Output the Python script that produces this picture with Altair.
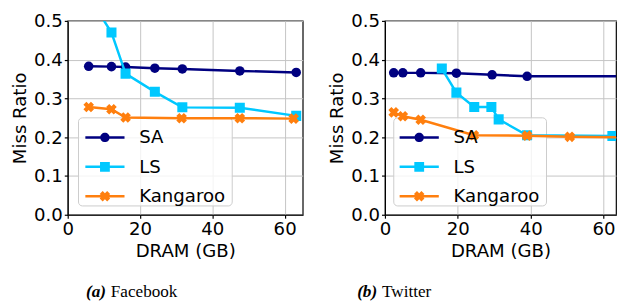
import altair as alt
import pandas as pd

# ---------------- data ----------------
series = ["SA", "LS", "Kangaroo"]
colors = ["#000080", "#00c8ff", "#ff7f0e"]

fb_sa_x = [5.8, 12.1, 16.0, 24.1, 31.7, 47.6, 63.2]
fb_sa_y = [0.383, 0.382, 0.381, 0.378, 0.376, 0.371, 0.367]
fb_ls_x = [5.8, 12.1, 16.0, 24.1, 31.7, 47.6, 63.2]
fb_ls_y = [0.563, 0.470, 0.364, 0.317, 0.277, 0.276, 0.255]
fb_kg_x = [5.8, 12.1, 16.0, 31.5, 47.6, 62.5]
fb_kg_y = [0.278, 0.272, 0.251, 0.249, 0.249, 0.248]

tw_sa_x = [2.4, 4.9, 9.8, 19.6, 29.4, 39.0, 78.0]
tw_sa_y = [0.366, 0.366, 0.366, 0.365, 0.361, 0.357, 0.357]
tw_ls_x = [15.6, 19.6, 24.5, 29.2, 31.2, 39.0, 62.4]
tw_ls_y = [0.377, 0.315, 0.278, 0.278, 0.246, 0.205, 0.203]
tw_kg_x = [2.4, 4.9, 9.8, 24.4, 39.0, 50.7, 78.0]
tw_kg_y = [0.264, 0.254, 0.245, 0.205, 0.204, 0.201, 0.199]

x_ticks = [0, 20, 40, 60]
y_ticks = [0.0, 0.1, 0.2, 0.3, 0.4, 0.5]
captions = [("(a)", "Facebook"), ("(b)", "Twitter")]
x_title = "DRAM (GB)"
y_title = "Miss Ratio"


def frame(xs_list, ys_list):
    rows = []
    for name, xs, ys in zip(series, xs_list, ys_list):
        for i, (xv, yv) in enumerate(zip(xs, ys)):
            rows.append({"series": name, "dram": xv, "miss": yv, "idx": i})
    return pd.DataFrame(rows)


fb_df = frame([fb_sa_x, fb_ls_x, fb_kg_x], [fb_sa_y, fb_ls_y, fb_kg_y])
tw_df = frame([tw_sa_x, tw_ls_x, tw_kg_x], [tw_sa_y, tw_ls_y, tw_kg_y])


# ---------------- marker shapes ----------------
def x_marker(scale, dx=0.0):
    a = 0.4
    b = 1.0
    pts = [(-a, -b), (a, -b), (a, -a), (b, -a), (b, a), (a, a), (a, b),
           (-a, b), (-a, a), (-b, a), (-b, -a), (-a, -a)]
    r = 0.70710678
    rot = [((px - py) * r * scale + dx, (px + py) * r * scale) for px, py in pts]
    return "M" + " L".join(f"{px:.4f},{py:.4f}" for px, py in rot) + " Z"


LINE_H = 0.0625
legend_line = f"M-1,{-LINE_H} L1,{-LINE_H} L1,{LINE_H} L-1,{LINE_H} Z"
cr = 0.24
legend_sa = legend_line + f" M{-cr},0 A{cr},{cr} 0 1,1 {cr},0 A{cr},{cr} 0 1,1 {-cr},0 Z"
sq = 0.25
legend_ls = legend_line + f" M{-sq},{-sq} L{sq},{-sq} L{sq},{sq} L{-sq},{sq} Z"
legend_kg = legend_line + " " + x_marker(0.27)
legend_paths = [legend_sa, legend_ls, legend_kg]

point_shapes = ["circle", "square", x_marker(1.0)]
point_sizes = [95, 105, 120]

FONT = "DejaVu Sans"
FS = 18.5
H = 198


def panel(df, xmax, width, cap, frame_box, legend_xy):
    x = alt.X("dram:Q", scale=alt.Scale(domain=[0, xmax], nice=False, zero=False),
              axis=alt.Axis(values=x_ticks, title=x_title, format="d", labelFlush=False))
    y = alt.Y("miss:Q", scale=alt.Scale(domain=[0, 0.5], nice=False),
              axis=alt.Axis(values=y_ticks, title=y_title, format=".1f"))

    one = alt.Data(values=[{"k": 0}])
    box = alt.Chart(one).mark_rect(
        fill="white", fillOpacity=0.8, stroke="#cccccc", strokeWidth=1, cornerRadius=4
    ).encode(x=alt.value(frame_box[0]), x2=alt.value(frame_box[1]),
             y=alt.value(frame_box[2]), y2=alt.value(frame_box[3]))

    base = alt.Chart(df)

    leg = alt.Legend(
        title=None, orient="none", legendX=legend_xy[0], legendY=legend_xy[1],
        symbolSize=1600, symbolStrokeWidth=0, symbolOpacity=1,
        labelFont=FONT, labelFontSize=FS,
        labelColor="black", labelOffset=15, rowPadding=-1.5, padding=0,
    )
    legend_layer = base.mark_point(filled=True, opacity=0, clip=True).encode(
        x=x, y=y,
        color=alt.Color("series:N", scale=alt.Scale(domain=series, range=colors), legend=leg),
        shape=alt.Shape("series:N", scale=alt.Scale(domain=series, range=legend_paths), legend=leg),
    )

    lines, pts = [], []
    for s, c, shp, sz in zip(series, colors, point_shapes, point_sizes):
        sub = base.transform_filter(alt.datum.series == s)
        lines.append(sub.mark_line(strokeWidth=2.5, clip=True, color=c).encode(
            x=x, y=y, order="idx:Q"))
        pts.append(sub.mark_point(filled=True, opacity=1, shape=shp, size=sz,
                                  clip=True, color=c).encode(x=x, y=y))

    cap_a = alt.Chart(one).mark_text(
        text=cap[0], font="Liberation Serif", fontSize=17.5, fontStyle="italic",
        fontWeight="bold", align="right", baseline="alphabetic", color="black"
    ).encode(x=alt.value(cap[2]), y=alt.value(282))
    cap_b = alt.Chart(one).mark_text(
        text=cap[1], font="Liberation Serif", fontSize=17.5, align="left",
        baseline="alphabetic", color="black"
    ).encode(x=alt.value(cap[2] + 5), y=alt.value(282))

    layers = [legend_layer, box]
    for ln, pt in zip(lines, pts):
        layers += [ln, pt]
    layers += [cap_a, cap_b]
    return alt.layer(*layers).properties(width=width, height=H)


left = panel(fb_df, 65, 240, (captions[0][0], captions[0][1], 39), (11, 168, 99, 189), (18, 99))
right = panel(tw_df, 63.4, 236, (captions[1][0], captions[1][1], -8), (9, 165, 99, 189), (15, 99))

chart = (
    alt.hconcat(left, right, spacing=24)
    .resolve_scale(color="independent", shape="independent", x="independent", y="independent")
    .resolve_legend(color="independent", shape="independent")
    .properties(padding={"left": 2, "top": 0, "right": 0, "bottom": 0})
    .configure(font=FONT)
    .configure_view(stroke="black", strokeWidth=1.2)
    .configure_axis(
        labelFont=FONT, labelFontSize=FS, labelColor="black",
        titleFont=FONT, titleFontSize=FS, titleFontWeight="normal", titleColor="black",
        tickColor="black", tickSize=3.5, tickWidth=1.2,
        domainColor="black", domainWidth=1.2,
        gridColor="#c4c4c4", gridWidth=1, labelPadding=2, titlePadding=4,
    )
)

chart.save("out.html", embed_options={"renderer": "svg", "actions": False})
